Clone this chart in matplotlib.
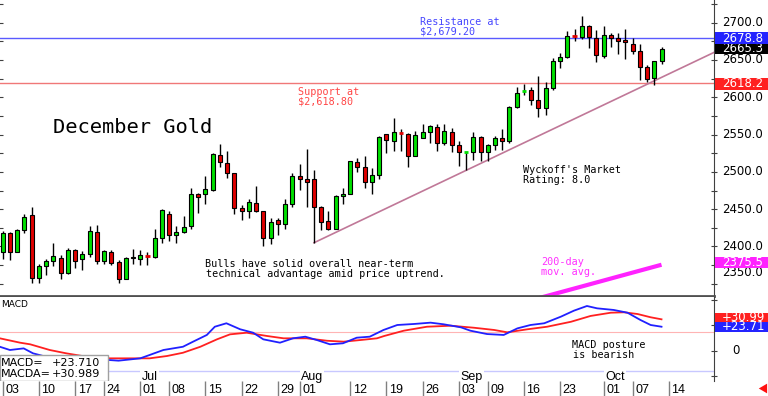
import numpy as np
import matplotlib
matplotlib.use("Agg")
import matplotlib.pyplot as plt
from matplotlib.patches import Rectangle
import matplotlib.transforms as mtransforms

# December gold daily candles, 03 Jun .. 11 Oct (trading-day index 0..91)
opens = [2393, 2418, 2393, 2422, 2442, 2358, 2374, 2380, 2384, 2364,
         2395, 2383, 2390, 2419, 2381, 2393, 2379, 2357, 2386, 2383,
         2388, 2386, 2412, 2444, 2415, 2419, 2427, 2470, 2470, 2476,
         2523, 2512, 2498, 2452, 2447, 2458, 2447, 2411, 2435, 2430,
         2457, 2495, 2490, 2491, 2453, 2434, 2424, 2468, 2471, 2513,
         2507, 2487, 2496, 2551, 2542, 2552, 2551, 2521, 2546, 2554,
         2560, 2539, 2554, 2536, 2526, 2526, 2547, 2527, 2536, 2546,
         2541, 2587, 2608, 2610, 2596, 2586, 2612, 2648, 2654, 2683,
         2681, 2696, 2680, 2655, 2684, 2680, 2677, 2671, 2662, 2641,
         2626, 2648]
highs = [2421, 2419, 2423, 2444, 2453, 2377, 2383, 2404, 2389, 2398,
         2396, 2394, 2427, 2429, 2395, 2395, 2382, 2386, 2397, 2395,
         2393, 2423, 2450, 2448, 2427, 2441, 2479, 2472, 2495, 2525,
         2538, 2528, 2499, 2456, 2463, 2481, 2448, 2438, 2438, 2463,
         2499, 2510, 2530, 2502, 2454, 2448, 2469, 2478, 2515, 2518,
         2521, 2505, 2548, 2551, 2572, 2558, 2552, 2555, 2564, 2563,
         2564, 2564, 2559, 2541, 2526.5, 2554, 2548, 2538, 2548, 2558,
         2588, 2614, 2618, 2614, 2628, 2620, 2652, 2660, 2689, 2692,
         2709, 2697, 2690, 2695, 2686, 2686, 2691, 2680, 2672, 2643,
         2649, 2668]
lows = [2383, 2382, 2392, 2418, 2351, 2351, 2362, 2374, 2357, 2363,
        2371, 2368, 2386, 2376, 2376, 2375, 2351, 2356, 2377, 2375,
        2375, 2384, 2405, 2407, 2405, 2418, 2424, 2445, 2457, 2474,
        2507, 2492, 2444, 2436, 2438, 2446, 2400, 2403, 2415, 2423,
        2453, 2476, 2453, 2405, 2422, 2422, 2423, 2457, 2470, 2500,
        2478, 2471, 2490, 2525, 2528, 2528, 2507, 2521, 2545, 2539,
        2528, 2536, 2526, 2508, 2502, 2516, 2515, 2515, 2529, 2529,
        2539, 2585, 2603, 2590, 2573, 2576, 2610, 2639, 2652, 2675,
        2678, 2666, 2647, 2652, 2668, 2658, 2651, 2658, 2623, 2620,
        2617, 2645]
closes = [2418, 2392, 2422, 2439, 2358, 2374, 2380, 2387, 2365, 2395,
          2381, 2390, 2421, 2381, 2394, 2378, 2357, 2385, 2384, 2389,
          2387.8, 2412, 2449, 2415, 2419, 2426, 2470, 2466, 2477, 2524,
          2513, 2498, 2451, 2447, 2459, 2447, 2411, 2433, 2430, 2457,
          2495, 2491, 2486, 2453, 2433, 2424, 2468, 2471, 2514, 2506,
          2487, 2496, 2547, 2543, 2553, 2551.7, 2521, 2549, 2554, 2561,
          2539, 2555, 2536, 2526, 2526.3, 2547, 2527, 2536, 2546, 2541,
          2587, 2606, 2608.3, 2596, 2585, 2612, 2648, 2654, 2682, 2682.7,
          2696, 2681, 2657, 2684, 2680, 2676, 2674, 2662, 2641, 2625,
          2648, 2665.3]

resistance = 2679.20
support = 2618.80
resistance_tag = 2678.8
support_tag = 2618.2
trend_days = [43, 99]
trend_vals = [2405, 2663.6]
ma_days = [74, 80, 86, 91]
ma_vals = [2330.6, 2346.4, 2362.3, 2375.5]

macd_days = [-0.4, 1.0, 2.9, 4.2, 5.6, 10.0, 14.8, 16.0, 19.0, 20.3, 22.2, 24.9,
             26.3, 28.2, 29.3, 30.9, 32.8, 34.6, 36.0, 38.3, 40.1, 41.8, 43.4,
             45.2, 47.0, 48.9, 50.7, 52.6, 54.5, 56.8, 59.1, 60.9, 63.3, 64.6,
             66.9, 69.2, 71.1, 72.9, 74.8, 77.1, 78.9, 80.7, 82.1, 84.4, 86.3,
             88.1, 89.5, 91.0]
macd_vals = [4.0, 0.8, 2.4, -2.5, -5.1, -8.0, -9.1, -9.7, -7.4, -4.1, 0.8, 4.0,
             9.0, 15.6, 23.7, 27.1, 21.2, 17.8, 11.3, 8.0, 12.3, 13.9, 10.6,
             6.4, 7.4, 12.9, 13.9, 20.5, 25.4, 26.4, 27.7, 26.1, 23.1, 19.8,
             16.5, 15.6, 22.1, 25.4, 27.1, 33.6, 39.5, 44.1, 41.8, 40.2, 37.5,
             30.3, 25.4, 23.71]
sig_days = [-0.4, 2.4, 3.8, 6.5, 8.8, 11.6, 14.8, 18.0, 20.3, 22.7, 24.9, 27.3,
            29.6, 31.4, 33.7, 36.5, 38.8, 42.0, 44.8, 47.1, 49.4, 51.7, 52.7,
            55.4, 58.6, 61.9, 65.1, 67.9, 69.7, 72.5, 75.2, 78.5, 81.2, 84.0,
            85.8, 87.7, 89.5, 91.0]
sig_vals = [12.3, 8.0, 6.4, 0.8, -2.5, -5.8, -7.4, -7.4, -7.4, -5.1, -1.9, 4.0,
            11.3, 16.2, 17.8, 14.6, 12.3, 12.3, 9.9, 9.0, 10.6, 12.3, 14.6,
            19.8, 23.7, 24.7, 22.7, 20.5, 18.2, 21.2, 23.7, 28.6, 34.3, 37.5,
            37.9, 36.2, 33.0, 30.99]
macd_last = 23.710
macda_last = 30.989

date_days = [0, 5, 10, 14, 19, 23, 28, 33, 38, 41, 48, 53, 58, 63, 67, 72, 77, 83, 87, 92]
date_labels = ['03', '10', '17', '24', '01', '08', '15', '22', '29', '01',
               '12', '19', '26', '03', '09', '16', '23', '01', '07', '14']
month_days = [19, 41, 63, 83]
month_labels = ['Jul', 'Aug', 'Sep', 'Oct']

W, H = 768, 396
MONO = 'DejaVu Sans Mono'


def frac(x0, y0, x1, y1):
    # pixel box (top-left origin) -> figure rect
    return [x0 / W, 1 - y1 / H, (x1 - x0) / W, (y1 - y0) / H]


def ptext(x, y, s, **kw):
    # text placed by pixel position, y is the baseline
    fig.text(x / W, 1 - y / H, s, va='baseline', ha=kw.pop('ha', 'left'), **kw)


def tag(a, y, label, color, h_px, z, dy=0):
    # coloured value box on the right axis, h_px tall, shifted dy px up
    tr = mtransforms.blended_transform_factory(a.transAxes, a.transData)
    tr = mtransforms.offset_copy(tr, fig=fig, y=dy, units='dots')
    y0, y1 = a.transData.transform([(0, y), (0, y)])[:, 1]
    per_px = 1.0 / (a.transData.transform((0, y + 1))[1] - y0)
    h = h_px * per_px
    a.add_patch(Rectangle((1.002, y - h / 2), 0.08, h, transform=tr, fc=color,
                          ec='none', clip_on=False, zorder=z))
    a.text(1.011, y, label, transform=tr, ha='left', va='center', fontsize=8.5,
           color='white', clip_on=False, zorder=z + 0.5)


fig = plt.figure(figsize=(7.68, 3.96), dpi=100)
ax = fig.add_axes(frac(0, 0, 714, 296))
axm = fig.add_axes(frac(0, 297, 714, 381), sharex=ax)
axd = fig.add_axes(frac(0, 381, 714, 396), sharex=ax)

o = np.array(opens, float)
hi = np.array(highs, float)
lo = np.array(lows, float)
c = np.array(closes, float)
x = np.arange(len(c))

# Price panel ---
ax.axhline(resistance, color='#5a5aff', lw=1, zorder=1)
ax.axhline(support, color='#f07878', lw=1, zorder=1)
ax.plot(trend_days, trend_vals, color='#c07898', lw=1.2, zorder=1)
ax.plot(ma_days, ma_vals, color='#ff22ff', lw=3, solid_capstyle='butt', zorder=1)

ax.vlines(x, lo, hi, color='black', lw=1, zorder=2)
body = c - o
doji = np.abs(body) < 0.5
cols = np.where(body > 0, '#00e000', '#e00000')
ax.bar(x[~doji], body[~doji], bottom=o[~doji], width=0.55, color=cols[~doji],
       edgecolor='black', linewidth=0.8, zorder=3)
ax.hlines(c[doji], x[doji] - 0.3, x[doji] + 0.3, colors=cols[doji], lw=2, zorder=3)

ax.set_xlim(-0.37, 98.25)
ax.set_ylim(2333.6, 2730.4)
for s in ['top', 'left']:
    ax.spines[s].set_visible(False)
ax.spines['right'].set_color('#404040')
ax.spines['bottom'].set_color('#505050')
ax.spines['bottom'].set_linewidth(2)
ax.set_yticks(np.arange(2350, 2726, 25))
ax.tick_params(axis='y', left=True, right=True, direction='inout', length=4,
               labelleft=False, labelright=False, color='#404040')
ax.tick_params(axis='x', bottom=False, labelbottom=False)

# MACD panel limits set early so the tags can size themselves
axm.set_ylim(-29.7, 52.95)

tr_y = mtransforms.blended_transform_factory(ax.transAxes, ax.transData)
for v in range(2350, 2701, 50):
    off = mtransforms.offset_copy(tr_y, fig=fig, y=11 if v == 2350 else 0, units='dots')
    ax.text(1.011, v, f'{v:.1f}', transform=off, ha='left', va='center',
            fontsize=8.5, clip_on=False)

tag(ax, c[-1], f'{c[-1]:.1f}', 'black', 10, 5)
tag(ax, resistance_tag, f'{resistance_tag:.1f}', '#2424ff', 12, 6)
tag(ax, support_tag, f'{support_tag:.1f}', '#ff2020', 12, 5)
tag(ax, ma_vals[-1], f'{ma_vals[-1]:.1f}', '#ff22ff', 11, 5, dy=2)

# MACD panel ---
axm.axhline(18.8, color='#ffb4b4', lw=0.8, zorder=1)
axm.axhline(-19.9, color='#c8c8ff', lw=1, zorder=1)
axm.plot(sig_days, sig_vals, color='#ff2020', lw=1.3, zorder=2)
axm.plot(macd_days, macd_vals, color='#2020ff', lw=1.3, zorder=3)
for s in ['top', 'left', 'bottom']:
    axm.spines[s].set_visible(False)
axm.spines['right'].set_color('#404040')
axm.set_yticks([-25, 0, 25, 50])
axm.tick_params(axis='y', left=False, right=True, direction='inout', length=4,
                labelleft=False, labelright=False, color='#404040')
axm.tick_params(axis='x', bottom=False, labelbottom=False)
axm.text(1.025, 0, '0', transform=mtransforms.blended_transform_factory(axm.transAxes, axm.transData),
         ha='left', va='center', fontsize=8.5, clip_on=False)
tag(axm, sig_vals[-1], f'+{sig_vals[-1]:.2f}', '#ff2020', 9, 5, dy=2)
tag(axm, macd_vals[-1], f'+{macd_vals[-1]:.2f}', '#2424ff', 10, 6)

for d, m in zip(month_days, month_labels):
    axm.text(d + 0.2, -28.3, m, fontsize=9, family='Liberation Sans', ha='left',
             va='baseline', zorder=4,
             bbox=dict(boxstyle='square,pad=0.1', fc='white', ec='none'))

# value box at lower left of MACD panel
axm.add_patch(Rectangle((0, 0.0), 108 / 714, 26 / 84, transform=axm.transAxes,
                        fc='white', ec='#a0a0a0', lw=1, zorder=5))

# Date row ---
axd.vlines(date_days, 0, 1, color='#808080', lw=1)
for d, s in zip(date_days, date_labels):
    axd.text(d + 0.35, 0.2, s, fontsize=9, family='Liberation Sans', ha='left', va='baseline')
axd.set_ylim(0, 1)
axd.axis('off')

# texts ---
ptext(53, 133, 'December Gold', fontsize=14.7, family=MONO)
ptext(420, 24.8, 'Resistance at', fontsize=7.3, family=MONO, color='#4646ff')
ptext(420, 34.8, f'${resistance:,.2f}', fontsize=7.3, family=MONO, color='#4646ff')
ptext(298, 94.8, 'Support at', fontsize=7.3, family=MONO, color='#ff4646')
ptext(298, 104.8, f'${support:,.2f}', fontsize=7.3, family=MONO, color='#ff4646')
ptext(205, 266.8, 'Bulls have solid overall near-term', fontsize=7.3, family=MONO)
ptext(206, 277, 'technical advantage amid price uptrend.', fontsize=7.3, family=MONO)
ptext(523, 173.2, "Wyckoff's Market", fontsize=7.3, family=MONO)
ptext(523, 183.4, 'Rating: 8.0', fontsize=7.3, family=MONO)
ptext(541, 264.8, '200-day', fontsize=7.3, family=MONO, color='#ff30ff')
ptext(541, 275, 'mov. avg.', fontsize=7.3, family=MONO, color='#ff30ff')
ptext(572, 347.8, 'MACD posture', fontsize=7.3, family=MONO)
ptext(573, 358.3, 'is bearish', fontsize=7.3, family=MONO)
ptext(1, 306.7, 'MACD', fontsize=6.5)
ptext(1, 366, 'MACD=', fontsize=8, zorder=6)
ptext(100, 366, f'+{macd_last:.3f}', fontsize=8, ha='right', zorder=6)
ptext(1, 377, 'MACDA=', fontsize=8, zorder=6)
ptext(100, 377, f'+{macda_last:.3f}', fontsize=8, ha='right', zorder=6)

# little red arrow in the corner
fig.add_artist(plt.Annotation('', xy=(756 / W, 1 - 388.5 / H), xytext=(766 / W, 1 - 388.5 / H),
                              xycoords='figure fraction',
                              arrowprops=dict(arrowstyle='simple,head_width=0.7,head_length=0.6,tail_width=0.3',
                                              color='#ff1010', lw=0)))

fig.savefig('out.png', dpi=100)
